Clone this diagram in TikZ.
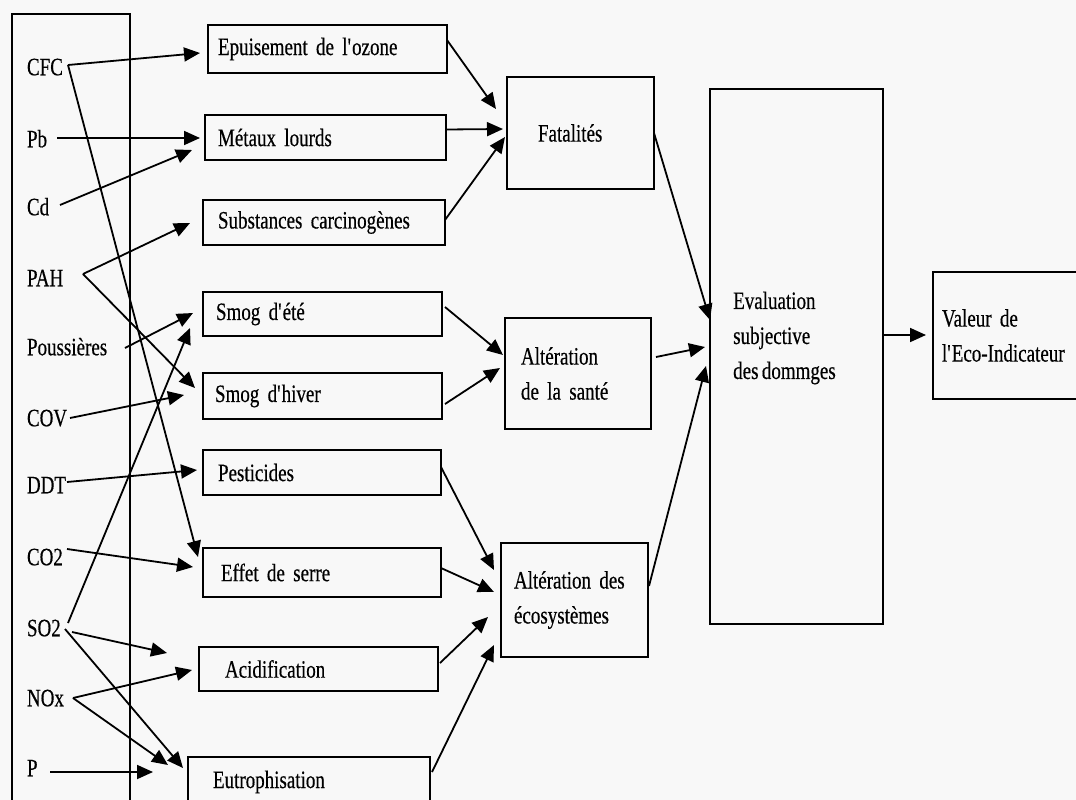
\documentclass[tikz,border=0pt]{standalone}
\usepackage{fontspec}
\setmainfont[FakeStretch=0.76,WordSpace=0.7,FakeBold=0.4]{Liberation Serif}
\usetikzlibrary{arrows.meta,calc}
\definecolor{bg}{RGB}{248,248,248}
\begin{document}
\begin{tikzpicture}[x=1pt,y=-1pt,
  fs/.style={font=\fontsize{25}{35}\selectfont},
  box/.style={draw, line width=2.8pt, rectangle, outer sep=0pt, inner ysep=0pt, align=left, anchor=north west, fs},
  lab/.style={anchor=west, inner sep=0pt, outer sep=0pt, text height=16.5pt, text depth=0pt, fs},
  arr/.style={line width=1.8pt, -{Triangle[length=16pt,width=14pt]}},
]
\useasboundingbox (0,0) rectangle (1076,800);
\clip (0,0) rectangle (1076,800);
\fill[bg] (0,0) rectangle (1076,800);

% left column
\node[draw, line width=2.8pt, outer sep=0pt, anchor=north west, minimum width=118pt, minimum height=820pt] (col) at (12,14) {};
\node[lab] (cfc) at (27,67) {CFC};
\node[lab] (pb) at (27,139) {Pb};
\node[lab] (cd) at (27,207) {Cd};
\node[lab] (pah) at (27,278) {PAH};
\node[lab] (pous) at (27,347) {Poussières};
\node[lab] (cov) at (27,418) {COV};
\node[lab] (ddt) at (27,485) {DDT};
\node[lab] (co2) at (27,557) {CO2};
\node[lab] (so2) at (27,628) {SO2};
\node[lab] (nox) at (27,698) {NOx};
\node[lab] (p) at (27,768) {P};

% impact boxes
\node[box, minimum height=48pt, text width=219pt, inner xsep=10pt] (epuis) at (208,25) {Epuisement de l\textquotesingle ozone};
\node[box, minimum height=45pt, text width=215pt, inner xsep=13pt] (metaux) at (205,115) {Métaux lourds};
\node[box, minimum height=45pt, text width=212pt, inner xsep=15pt] (subst) at (203,200) {Substances carcinogènes};
\node[box, minimum height=44pt, text width=213pt, inner xsep=13pt] (smete) at (203,292) {Smog d\textquotesingle été};
\node[box, minimum height=46pt, text width=215pt, inner xsep=12pt] (smhiv) at (203,373) {Smog d\textquotesingle hiver};
\node[box, minimum height=45pt, text width=208pt, inner xsep=15pt] (pest) at (203,450) {Pesticides};
\node[box, minimum height=49pt, text width=202pt, inner xsep=18pt] (serre) at (203,548) {Effet de serre};
\node[box, minimum height=44pt, text width=187pt, inner xsep=26pt] (acid) at (199,647) {Acidification};
\node[box, minimum height=50pt, text width=192pt, inner xsep=25pt] (eutro) at (188,757) {Eutrophisation};

% damage boxes
\node[box, minimum height=112pt, text width=85pt, inner xsep=31pt] (fatal) at (507,77) {Fatalités};
\node[box, minimum height=111pt, text width=114pt, inner xsep=16pt] (sante) at (505,318) {Altération\\de la santé};
\node[box, minimum height=114pt, text width=121pt, inner xsep=13pt] (eco) at (501,543) {Altération des\\écosystèmes};

% evaluation
\node[box, minimum height=535pt, minimum width=173pt] (evalb) at (710,89) {};
\node[anchor=west, inner sep=0pt, align=left, fs] (evaltxt) at (733,338) {Evaluation\\subjective\\des dommges};
\node[box, minimum height=127pt, text width=142pt, inner xsep=9pt] (valeur) at (933,272) {Valeur de\\l\textquotesingle Eco-Indicateur};

% substance -> impact
\draw[arr] ($(cfc.west)+(41,-2)$) -- ($(epuis.west)+(-8,4)$);
\draw[arr] ($(cfc.west)+(41,-2)$) -- ($(serre.north west)+(-5,9)$);
\draw[arr] ($(pb.west)+(30,-1)$) -- ($(metaux.west)+(-5,0.5)$);
\draw[arr] ($(cd.west)+(33,-2)$) -- ($(metaux.south west)+(-13,-10)$);
\draw[arr] ($(pah.west)+(56,-4)$) -- ($(subst.west)+(-13,0.5)$);
\draw[arr] ($(pah.west)+(56,-4)$) -- ($(smhiv.west)+(-8,-8)$);
\draw[arr] ($(pous.west)+(98,1)$) -- ($(smete.west)+(-10,-1)$);
\draw[arr] ($(cov.west)+(43,0)$) -- ($(smhiv.west)+(-19,-1)$);
\draw[arr] ($(ddt.west)+(40,-3)$) -- ($(pest.west)+(-6,-2.5)$);
\draw[arr] ($(co2.west)+(40,-8)$) -- ($(serre.west)+(-10,-5.5)$);
\draw[arr] ($(so2.west)+(41,-5)$) -- ($(smete.south west)+(-13,-8)$);
\draw[arr] ($(so2.west)+(45,4)$) -- ($(acid.west)+(-32,-16)$);
\draw[arr] ($(so2.west)+(38,1)$) -- ($(eutro.north west)+(-5,11)$);
\draw[arr] ($(nox.west)+(46,0)$) -- ($(acid.west)+(-7,1)$);
\draw[arr] ($(nox.west)+(46,0)$) -- ($(eutro.north west)+(-20,8)$);
\draw[arr] ($(p.west)+(23,4)$) -- ($(eutro.north west)+(-35,15)$);

% impact -> damage
\draw[arr] ($(epuis.east)+(0,-9)$) -- ($(fatal.west)+(-11,-24)$);
\draw[arr] ($(metaux.east)+(0,-8)$) -- ($(fatal.west)+(-4,-4)$);
\draw[arr] ($(subst.east)+(0,-2.5)$) -- ($(fatal.west)+(-2,4)$);
\draw[arr] ($(smete.east)+(3,-7)$) -- ($(sante.west)+(-2,-18.5)$);
\draw[arr] ($(smhiv.east)+(3,8)$) -- ($(sante.west)+(-5,-5.5)$);
\draw[arr] ($(pest.east)+(0,-5.5)$) -- ($(eco.west)+(-7,-30)$);
\draw[arr] ($(serre.east)+(0,-4.5)$) -- ($(eco.west)+(-7,-8)$);
\draw[arr] ($(acid.east)+(2,-6)$) -- ($(eco.west)+(-13,17)$);
\draw[arr] ($(eutro.north east)+(2,15)$) -- ($(eco.south west)+(-7,-12)$);

% damage -> evaluation
\draw[arr] (fatal.east) -- ($(evalb.west)+(0,-36.5)$);
\draw[arr] ($(sante.east)+(5,-16.5)$) -- ($(evalb.west)+(-5,-9.5)$);
\draw[arr] ($(eco.east)+(1,-14)$) -- ($(evalb.west)+(-4,9.5)$);
\draw[arr] ($(evalb.east)+(0,-21.5)$) -- ($(valeur.west)+(-7,-0.5)$);
\end{tikzpicture}
\end{document}
